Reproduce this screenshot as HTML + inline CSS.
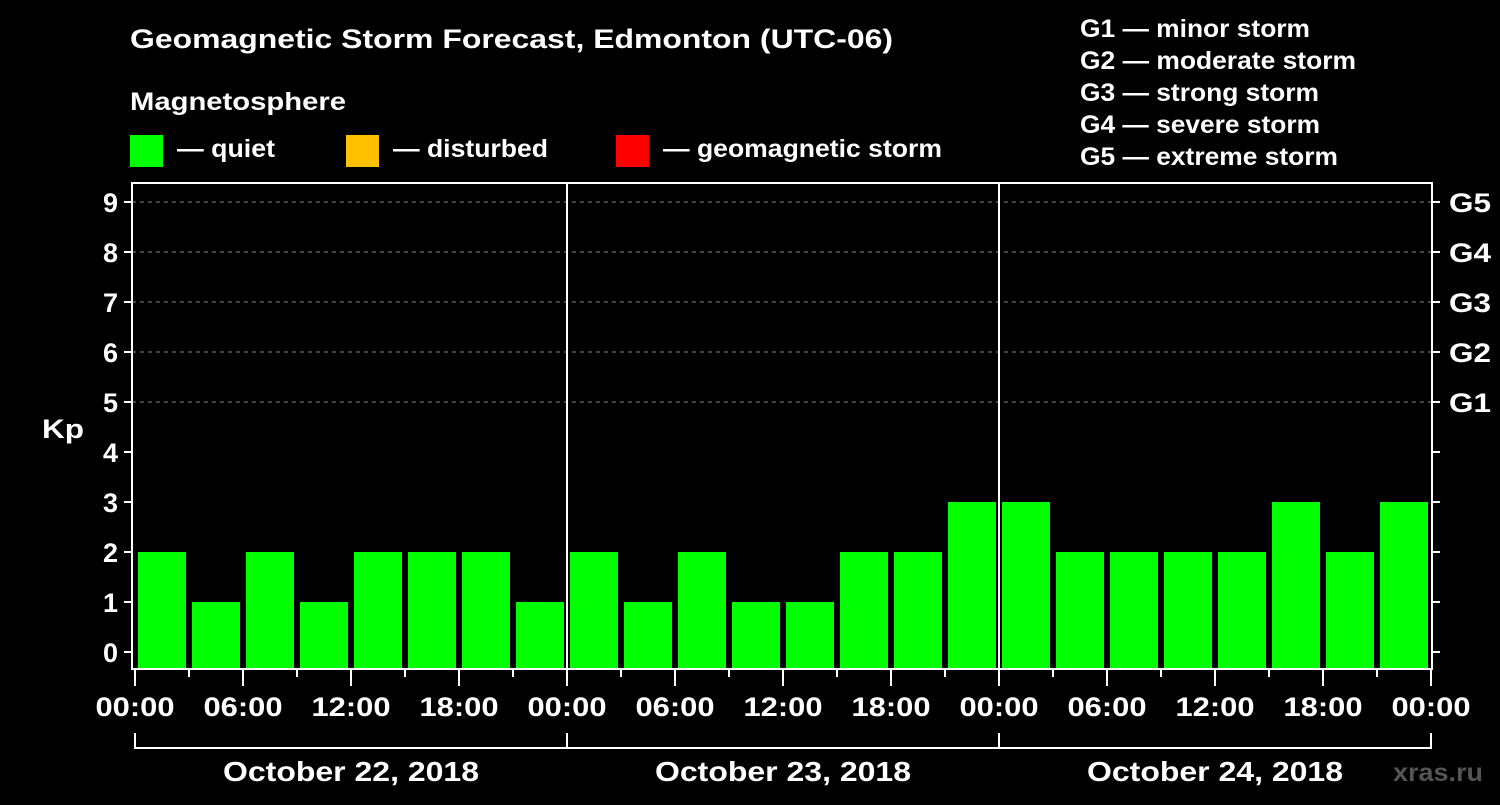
<!DOCTYPE html>
<html><head><meta charset="utf-8"><style>
body{margin:0;background:#000;width:1500px;height:800px;overflow:hidden}
svg text{font-family:"Liberation Sans",Arial,sans-serif;font-weight:bold;fill:#fff}
</style></head><body>
<svg id="c" width="1500" height="800">
<text x="130" y="48" font-size="27" textLength="763" lengthAdjust="spacingAndGlyphs">Geomagnetic Storm Forecast, Edmonton (UTC-06)</text>
<text x="130" y="110" font-size="25" textLength="216" lengthAdjust="spacingAndGlyphs">Magnetosphere</text>
<g><rect x="130" y="135" width="33" height="32" fill="#00ff00"/><text x="177" y="157" font-size="25" textLength="98" lengthAdjust="spacingAndGlyphs">— quiet</text></g>
<g><rect x="346" y="135" width="33" height="32" fill="#ffc000"/><text x="393" y="157" font-size="25" textLength="155" lengthAdjust="spacingAndGlyphs">— disturbed</text></g>
<g><rect x="616" y="135" width="33" height="32" fill="#ff0000"/><text x="663" y="157" font-size="25" textLength="279" lengthAdjust="spacingAndGlyphs">— geomagnetic storm</text></g>
<g font-size="25">
<text x="1080" y="37" textLength="230" lengthAdjust="spacingAndGlyphs">G1 — minor storm</text>
<text x="1080" y="69" textLength="276" lengthAdjust="spacingAndGlyphs">G2 — moderate storm</text>
<text x="1080" y="101" textLength="239" lengthAdjust="spacingAndGlyphs">G3 — strong storm</text>
<text x="1080" y="133" textLength="240" lengthAdjust="spacingAndGlyphs">G4 — severe storm</text>
<text x="1080" y="165" textLength="258" lengthAdjust="spacingAndGlyphs">G5 — extreme storm</text></g>
<text x="42" y="438" font-size="27" textLength="42" lengthAdjust="spacingAndGlyphs">Kp</text>
<text x="1393" y="781" font-size="25" textLength="90" lengthAdjust="spacingAndGlyphs" style="fill:#555">xras.ru</text>
<g id="plot"></g>
</svg>
<script>
const values=[2,1,2,1,2,2,2,1, 2,1,2,1,1,2,2,3, 3,2,2,2,2,3,2,3];
const yTicks=[0,1,2,3,4,5,6,7,8,9];
const gLabels=["G1","G2","G3","G4","G5"];
const xTickLabels=["00:00","06:00","12:00","18:00","00:00","06:00","12:00","18:00","00:00","06:00","12:00","18:00","00:00"];
const dates=["October 22, 2018","October 23, 2018","October 24, 2018"];
(function(){
const NS="http://www.w3.org/2000/svg",g=document.getElementById('plot');
const X=h=>135+h*18, Y=k=>652-k*50;
function el(t,a,txt){const e=document.createElementNS(NS,t);for(const k in a)e.setAttribute(k,a[k]);if(txt!=null)e.textContent=txt;g.appendChild(e);return e;}
const pTop=183,pBot=668,L=132,R=1432;
yTicks.forEach(k=>{
 if(k>=5){const gl=el('line',{x1:L,x2:R,y1:Y(k),y2:Y(k),stroke:'#888','stroke-dasharray':'4,4'});
 
 }
 el('line',{x1:L-8,x2:L,y1:Y(k),y2:Y(k),stroke:'#fff','stroke-width':2});
 el('line',{x1:R,x2:R+8,y1:Y(k),y2:Y(k),stroke:'#fff','stroke-width':2});
 const t=el('text',{x:L-14,y:Y(k)+10,'font-size':27,'text-anchor':'end'},k);
 
 
});
gLabels.forEach((s,i)=>{const t=el('text',{x:1449,y:Y(5+i)+10,'font-size':27,textLength:42,lengthAdjust:'spacingAndGlyphs'},s);
 
 });
values.forEach((v,i)=>{
 const y=Y(v);const r=el('rect',{x:X(i*3)+3,y:y,width:48,height:pBot-y,fill:v>=5?'#ff0000':v>=4?'#ffc000':'#00ff00'});
 
 
});
[24,48].forEach(h=>{const l=el('line',{x1:X(h),x2:X(h),y1:pTop,y2:pBot,stroke:'#fff','stroke-width':2});
 
 });
const f=el('rect',{x:L,y:pTop,width:R-L,height:pBot+1-pTop,fill:'none',stroke:'#fff','stroke-width':2});


for(let h=0;h<=72;h+=3){el('line',{x1:X(h),x2:X(h),y1:pBot,y2:h%6?677:686,stroke:'#fff','stroke-width':2});}
xTickLabels.forEach((s,i)=>{const t=el('text',{x:X(i*6),y:716,'font-size':27,'text-anchor':'middle',textLength:79,lengthAdjust:'spacingAndGlyphs'},s);
 
 });
el('line',{x1:X(0),x2:X(72),y1:748,y2:748,stroke:'#fff','stroke-width':2});
[0,24,48,72].forEach(h=>el('line',{x1:X(h),x2:X(h),y1:733,y2:749,stroke:'#fff','stroke-width':2}));
dates.forEach((s,i)=>{const t=el('text',{x:X(i*24+12),y:781,'font-size':28,'text-anchor':'middle',textLength:256,lengthAdjust:'spacingAndGlyphs'},s);
 
 });
})();
</script>
</body></html>
